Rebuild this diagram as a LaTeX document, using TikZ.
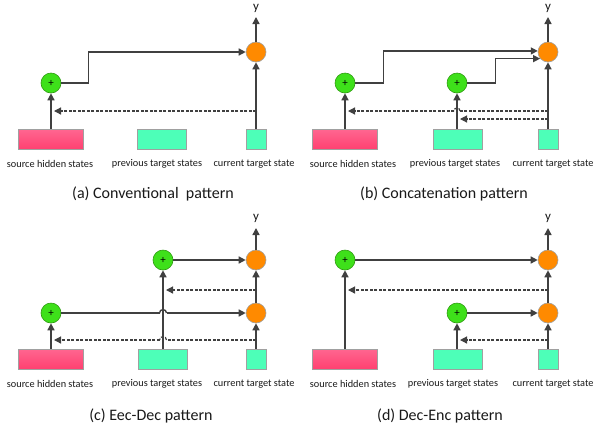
\documentclass[tikz,border=0pt]{standalone}
\usepackage{fontspec}
\setmainfont{Carlito}
\usetikzlibrary{arrows.meta,calc}
\definecolor{ln}{HTML}{404040}
\definecolor{pinkT}{HTML}{FF6690}
\definecolor{pinkB}{HTML}{FF4070}
\definecolor{tealc}{HTML}{4DFFB8}
\definecolor{grn}{HTML}{3EE01A}
\definecolor{grnD}{HTML}{2E9A10}
\definecolor{org}{HTML}{FF8A00}
\definecolor{bord}{HTML}{A0A0A0}
\tikzset{
  srcbox/.style={rectangle,draw=bord,line width=0.8pt,top color=pinkT,bottom color=pinkB,minimum width=65pt,minimum height=20pt,inner sep=0pt},
  prvbox/.style={rectangle,draw=bord,line width=0.8pt,fill=tealc,minimum width=49pt,minimum height=20pt,inner sep=0pt},
  curbox/.style={rectangle,draw=bord,line width=0.8pt,fill=tealc,minimum width=20pt,minimum height=20pt,inner sep=0pt},
  addnode/.style={circle,draw=grnD,line width=0.6pt,fill=grn,minimum size=20pt,inner sep=0pt,font=\fontsize{11}{11}\selectfont},
  outnode/.style={circle,draw=bord,line width=0.6pt,fill=org,minimum size=20pt,inner sep=0pt},
  arr/.style={draw=ln,line width=1.4pt,-{Triangle[length=7pt,width=7pt]}},
  lnseg/.style={draw=ln,line width=1.4pt},
  dsh/.style={draw=ln,line width=1.2pt,dash pattern=on 3pt off 1.5pt,-{Triangle[length=7pt,width=7pt]}},
  dshseg/.style={draw=ln,line width=1.2pt,dash pattern=on 3pt off 1.5pt},
  lbl/.style={inner sep=0pt,font=\fontsize{10.3}{12}\selectfont,text=black!90},
  captxt/.style={inner sep=0pt,font=\fontsize{16}{18}\selectfont,text=black!90},
  ylbl/.style={inner sep=0pt,font=\fontsize{13}{14}\selectfont,text=black!90}
}
\begin{document}
\begin{tikzpicture}[x=1pt,y=-1pt]
\useasboundingbox[fill=white] (0,0) rectangle (599,424);

% ---------------- (a) ----------------
\node[srcbox] (a_src) at (51,139.5) {};
\node[prvbox] (a_prv) at (161.5,139.5) {};
\node[curbox] (a_cur) at (256,139.5) {};
\node[addnode] (a_add) at (51,83) {+};
\node[outnode] (a_out) at (256,52) {};
\coordinate (a_top) at (256,17);
\node[ylbl] (a_y) at (256,8) {y};
\draw[arr] (a_src.north -| a_add) -- (a_add.south);
\draw[arr] (a_cur.north) -- (a_out.south);
\draw[arr] (a_out.north) -- (a_top);
\draw[arr] (a_add.east) -- ++(27,0) |- (a_out.west);
\draw[dsh] (a_out |- 0,111) -- ([xshift=3pt]a_add |- 0,111);
\node[lbl] (a_l1) at (50,164) {source hidden states};
\node[lbl] (a_l2) at (157,164) {previous target states};
\node[lbl] (a_l3) at (254,164) {current target state};
\node[captxt] (a_cap) at (153,194) {(a) Conventional\ \ pattern};

% ---------------- (b) ----------------
\node[srcbox] (b_src) at (345,139.5) {};
\node[prvbox] (b_prv) at (457.5,139.5) {};
\node[curbox] (b_cur) at (548,139.5) {};
\node[addnode] (b_add1) at (345,83) {+};
\node[addnode] (b_add2) at (457,83) {+};
\node[outnode] (b_out) at (548,52) {};
\coordinate (b_top) at (548,17);
\node[ylbl] (b_y) at (548,8) {y};
\draw[arr] (b_src.north -| b_add1) -- (b_add1.south);
\draw[arr] (b_prv.north -| b_add2) -- (b_add2.south);
\draw[arr] (b_cur.north) -- (b_out.south);
\draw[arr] (b_out.north) -- (b_top);
\draw[arr] (b_add1.east) -- ++(28,0) |- (b_out.174);
\draw[arr] (b_add2.east) -- ++(28,0) |- (b_out.220);
\draw[dshseg] (b_out |- 0,111) -- (460,111);
\draw[dshseg] (460,111) .. controls (460,107) and (454,107) .. (454,111);
\draw[dsh] (454,111) -- ([xshift=3pt]b_add1 |- 0,111);
\draw[dsh] (b_out |- 0,119) -- ([xshift=3pt]b_add2 |- 0,119);
\node[lbl] (b_l1) at (353,164) {source hidden states};
\node[lbl] (b_l2) at (455,164) {previous target states};
\node[lbl] (b_l3) at (553,164) {current target state};
\node[captxt] (b_cap) at (444,194) {(b) Concatenation pattern};

% ---------------- (c) ----------------
\node[srcbox] (c_src) at (51,359) {};
\node[prvbox] (c_prv) at (162.5,359) {};
\node[curbox] (c_cur) at (256,359) {};
\node[addnode] (c_add1) at (51,313) {+};
\node[addnode] (c_add2) at (163,260) {+};
\node[outnode] (c_out1) at (256,313) {};
\node[outnode] (c_out2) at (256,260) {};
\coordinate (c_top) at (256,228);
\node[ylbl] (c_y) at (256,218) {y};
\draw[arr] (c_src.north -| c_add1) -- (c_add1.south);
\draw[arr] (c_prv.north -| c_add2) -- (c_add2.south);
\draw[arr] (c_cur.north) -- (c_out1.south);
\draw[arr] (c_out1.north) -- (c_out2.south);
\draw[arr] (c_out2.north) -- (c_top);
\draw[arr] (c_add2.east) -- (c_out2.west);
\draw[lnseg] (c_add1.east) -- (159.5,313);
\draw[lnseg] (159.5,313) .. controls (159.5,308.5) and (166.5,308.5) .. (166.5,313);
\draw[arr] (166.5,313) -- (c_out1.west);
\draw[dsh] (c_out2 |- 0,290) -- ([xshift=3pt]c_add2 |- 0,290);
\draw[dshseg] (c_out1 |- 0,340) -- (166.5,340);
\draw[dshseg] (166.5,340) .. controls (166.5,335.5) and (159.5,335.5) .. (159.5,340);
\draw[dsh] (159.5,340) -- ([xshift=3pt]c_add1 |- 0,340);
\node[lbl] (c_l1) at (50,384) {source hidden states};
\node[lbl] (c_l2) at (157,384) {previous target states};
\node[lbl] (c_l3) at (254,384) {current target state};
\node[captxt] (c_cap) at (151,416) {(c) Eec-Dec pattern};

% ---------------- (d) ----------------
\node[srcbox] (d_src) at (345,359) {};
\node[prvbox] (d_prv) at (457.5,359) {};
\node[curbox] (d_cur) at (548,359) {};
\node[addnode] (d_add1) at (345,260) {+};
\node[addnode] (d_add2) at (457,313) {+};
\node[outnode] (d_out1) at (548,313) {};
\node[outnode] (d_out2) at (548,260) {};
\coordinate (d_top) at (548,228);
\node[ylbl] (d_y) at (548,218) {y};
\draw[arr] (d_src.north -| d_add1) -- (d_add1.south);
\draw[arr] (d_prv.north -| d_add2) -- (d_add2.south);
\draw[arr] (d_cur.north) -- (d_out1.south);
\draw[arr] (d_out1.north) -- (d_out2.south);
\draw[arr] (d_out2.north) -- (d_top);
\draw[arr] (d_add1.east) -- (d_out2.west);
\draw[arr] (d_add2.east) -- (d_out1.west);
\draw[dsh] (d_out2 |- 0,290) -- ([xshift=3pt]d_add1 |- 0,290);
\draw[dsh] (d_out1 |- 0,340) -- ([xshift=3pt]d_add2 |- 0,340);
\node[lbl] (d_l1) at (353,384) {source hidden states};
\node[lbl] (d_l2) at (453,384) {previous target states};
\node[lbl] (d_l3) at (553,384) {current target state};
\node[captxt] (d_cap) at (440,416) {(d) Dec-Enc pattern};
\end{tikzpicture}
\end{document}
